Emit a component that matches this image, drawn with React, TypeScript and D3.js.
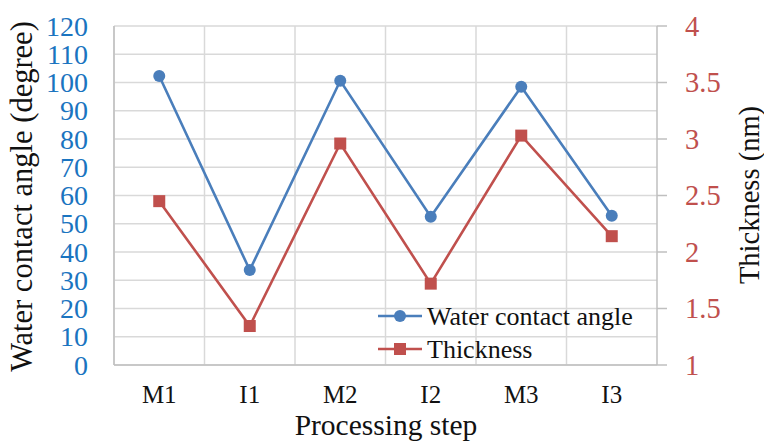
import { useEffect, useRef } from 'react';
import * as d3 from 'd3';

const steps = ['M1', 'I1', 'M2', 'I2', 'M3', 'I3'];
const contactAngle = [102.3, 33.6, 100.6, 52.5, 98.5, 52.8];
const thickness = [2.45, 1.345, 2.96, 1.72, 3.03, 2.14];
const angleTicks = [0, 10, 20, 30, 40, 50, 60, 70, 80, 90, 100, 110, 120];
const thickTicks = [1, 1.5, 2, 2.5, 3, 3.5, 4];

const BLUE = '#4a7ebb';
const RED = '#c0504d';
const BLUE_TEXT = '#1a74c0';
const FONT = '"Liberation Serif", "Times New Roman", serif';

export default function App() {
  const svgRef = useRef<SVGSVGElement>(null);

  useEffect(() => {
    if (!svgRef.current) return;
    const svg = d3.select(svgRef.current);
    svg.selectAll('*').remove();

    const left = 114;
    const right = 657;
    const top = 26;
    const bottom = 365;

    const x = d3.scaleBand().domain(steps).range([left, right]);
    const yL = d3.scaleLinear().domain([0, 120]).range([bottom, top]);
    const yR = d3.scaleLinear().domain([1, 4]).range([bottom, top]);

    svg.append('rect').attr('width', 764).attr('height', 441).attr('fill', 'white');

    // grid
    const grid = svg.append('g').attr('stroke', '#d9d9d9').attr('stroke-width', 1.5);
    grid
      .selectAll('line.h')
      .data(angleTicks)
      .join('line')
      .attr('x1', left)
      .attr('x2', right)
      .attr('y1', (d) => yL(d))
      .attr('y2', (d) => yL(d));
    grid
      .selectAll('line.v')
      .data(steps)
      .join('line')
      .attr('x1', (d) => x(d)!)
      .attr('x2', (d) => x(d)!)
      .attr('y1', top)
      .attr('y2', bottom);

    // axis lines
    const ax = svg.append('g').attr('stroke', '#bfbfbf').attr('stroke-width', 1.5);
    ax.append('line').attr('x1', left).attr('x2', left).attr('y1', top).attr('y2', bottom);
    ax.append('line').attr('x1', left).attr('x2', right).attr('y1', bottom).attr('y2', bottom);
    ax.append('line').attr('x1', right).attr('x2', right).attr('y1', top).attr('y2', bottom);
    ax.selectAll('line.t')
      .data(thickTicks)
      .join('line')
      .attr('x1', right)
      .attr('x2', right + 10)
      .attr('y1', (d) => yR(d))
      .attr('y2', (d) => yR(d));

    // left tick labels
    svg
      .append('g')
      .selectAll('text')
      .data(angleTicks)
      .join('text')
      .attr('x', 88)
      .attr('y', (d) => yL(d))
      .attr('dy', '0.34em')
      .attr('text-anchor', 'end')
      .attr('font-family', FONT)
      .attr('font-size', 28)
      .attr('fill', BLUE_TEXT)
      .text((d) => d);

    // right tick labels
    svg
      .append('g')
      .selectAll('text')
      .data(thickTicks)
      .join('text')
      .attr('x', 685)
      .attr('y', (d) => yR(d))
      .attr('dy', '0.34em')
      .attr('font-family', FONT)
      .attr('font-size', 28.5)
      .attr('fill', RED)
      .text((d) => d);

    // x labels
    svg
      .append('g')
      .selectAll('text')
      .data(steps)
      .join('text')
      .attr('x', (d) => x(d)! + x.bandwidth() / 2)
      .attr('y', 402.5)
      .attr('text-anchor', 'middle')
      .attr('font-family', FONT)
      .attr('font-size', 25)
      .attr('fill', '#111')
      .text((d) => d);

    // axis titles
    svg
      .append('text')
      .attr('transform', `translate(32, ${(top + bottom) / 2 + 1}) rotate(-90)`)
      .attr('text-anchor', 'middle')
      .attr('font-family', FONT)
      .attr('font-size', 30.5)
      .attr('fill', '#111')
      .text('Water contact angle (degree)');
    svg
      .append('text')
      .attr('transform', `translate(759, 195) rotate(-90)`)
      .attr('text-anchor', 'middle')
      .attr('font-family', FONT)
      .attr('font-size', 28.5)
      .attr('fill', '#111')
      .text('Thickness (nm)');
    svg
      .append('text')
      .attr('x', 386)
      .attr('y', 434.5)
      .attr('text-anchor', 'middle')
      .attr('font-family', FONT)
      .attr('font-size', 29.5)
      .attr('fill', '#111')
      .text('Processing step');

    const cx = (d: string) => x(d)! + x.bandwidth() / 2;

    // thickness series
    const lineR = d3
      .line<number>()
      .x((_, i) => cx(steps[i]))
      .y((d) => yR(d));
    svg
      .append('path')
      .attr('d', lineR(thickness)!)
      .attr('fill', 'none')
      .attr('stroke', RED)
      .attr('stroke-width', 2.6);
    svg
      .append('g')
      .selectAll('rect')
      .data(thickness)
      .join('rect')
      .attr('x', (_, i) => cx(steps[i]) - 6)
      .attr('y', (d) => yR(d) - 6)
      .attr('width', 12)
      .attr('height', 12)
      .attr('fill', RED);

    // contact angle series
    const lineL = d3
      .line<number>()
      .x((_, i) => cx(steps[i]))
      .y((d) => yL(d));
    svg
      .append('path')
      .attr('d', lineL(contactAngle)!)
      .attr('fill', 'none')
      .attr('stroke', BLUE)
      .attr('stroke-width', 2.6);
    svg
      .append('g')
      .selectAll('circle')
      .data(contactAngle)
      .join('circle')
      .attr('cx', (_, i) => cx(steps[i]))
      .attr('cy', (d) => yL(d))
      .attr('r', 6)
      .attr('fill', BLUE);

    // legend
    const legend = svg.append('g').attr('transform', 'translate(378, 0)');
    const items = [
      { name: 'Water contact angle', color: BLUE, shape: 'circle', y: 316 },
      { name: 'Thickness', color: RED, shape: 'square', y: 349 },
    ];
    items.forEach((it) => {
      legend
        .append('line')
        .attr('x1', 0)
        .attr('x2', 44)
        .attr('y1', it.y)
        .attr('y2', it.y)
        .attr('stroke', it.color)
        .attr('stroke-width', 2.6);
      if (it.shape === 'circle') {
        legend.append('circle').attr('cx', 22).attr('cy', it.y).attr('r', 6).attr('fill', it.color);
      } else {
        legend
          .append('rect')
          .attr('x', 16)
          .attr('y', it.y - 6)
          .attr('width', 12)
          .attr('height', 12)
          .attr('fill', it.color);
      }
      legend
        .append('text')
        .attr('x', 49)
        .attr('y', it.y)
        .attr('dy', '0.34em')
        .attr('font-family', FONT)
        .attr('font-size', 26)
        .attr('fill', '#111')
        .text(it.name);
    });
  }, []);

  return (
    <div style={{ position: 'absolute', left: 0, top: 0 }}>
      <svg ref={svgRef} width={764} height={441} style={{ display: 'block' }} />
    </div>
  );
}
